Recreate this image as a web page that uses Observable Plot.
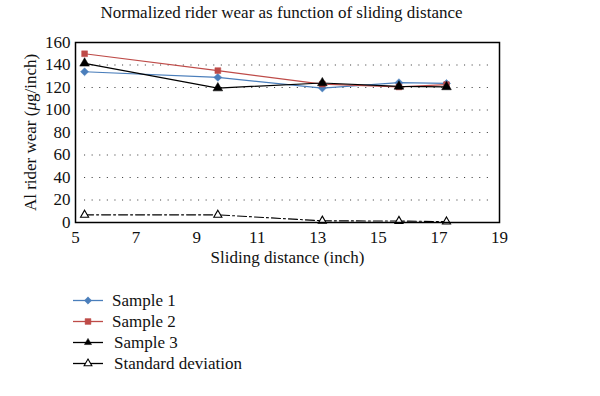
<!DOCTYPE html>
<html>
<head>
<meta charset="utf-8">
<script src="https://cdn.jsdelivr.net/npm/d3@7"></script>
<script src="https://cdn.jsdelivr.net/npm/@observablehq/plot@0.6"></script>
<style>
  body { margin: 0; background: #fff; font-family: "Liberation Serif", serif; }
  #wrap { width: 600px; height: 396px; position: relative; overflow: hidden; }
  #title { width: 563px; height: 30px; text-align: center; font-size: 17px; line-height: 17px; padding-top: 4px; box-sizing: border-box; color: #111; }
  #legend { position: relative; height: 126px; }
  .row { position: absolute; left: 73px; height: 21px; line-height: 21px; font-size: 17px; color: #111; display: flex; align-items: center; }
  .row svg { display: block; margin-right: 8px; }
</style>
</head>
<body>
<div id="wrap">
  <div id="title"></div>
  <div id="chart"></div>
  <div id="legend"></div>
</div>
<script>
const chartTitle = "Normalized rider wear as function of sliding distance";
const xLabel = "Sliding distance (inch)";
const yLabelParts = ["Al rider wear (", "μ", "g/inch)"];
const distance = [5.3, 9.7, 13.15, 15.68, 17.25];
const sample1 = [134, 129, 119.5, 124.3, 123.6];
const sample2 = [150, 135, 123, 120.5, 122.5];
const sample3 = [141.5, 119.5, 124, 121, 120.5];
const stdDev = [6.8, 6.8, 1.5, 1.3, 0.8];
const seriesNames = ["Sample 1", "Sample 2", "Sample 3", "Standard deviation"];
const seriesColors = ["#4a7ebb", "#be4b48", "#000000", "#000000"];
const seriesSymbols = ["diamond2", "square", "triangle", "triangle"];
const xTicks = [5, 7, 9, 11, 13, 15, 17, 19];
const yTicks = [0, 20, 40, 60, 80, 100, 120, 140, 160];
const gridTicks = [20, 40, 60, 80, 100, 120, 140];

const seriesValues = [sample1, sample2, sample3, stdDev];
const rows = [];
seriesValues.forEach((vals, i) => vals.forEach((v, j) => rows.push({series: seriesNames[i], x: distance[j], y: v})));
const bySeries = name => rows.filter(r => r.series === name);

document.getElementById("title").textContent = chartTitle;

const lineMarks = [];
seriesNames.forEach((name, i) => {
  const isStd = i === 3;
  lineMarks.push(Plot.line(bySeries(name), {
    x: "x", y: "y", stroke: seriesColors[i], strokeWidth: isStd ? 1.1 : 1.2,
    strokeDasharray: isStd ? "9,3,2,3" : null
  }));
});
seriesNames.forEach((name, i) => {
  const isStd = i === 3;
  const r = [3.6, 3.3, 3.6, 3.0][i];
  lineMarks.push(Plot.dot(bySeries(name), {
    x: "x", y: "y", symbol: seriesSymbols[i], r,
    fill: isStd ? "white" : seriesColors[i],
    stroke: isStd ? "black" : seriesColors[i],
    strokeWidth: isStd ? 1.1 : 0.5
  }));
});

const chart = Plot.plot({
  width: 600, height: 240,
  marginLeft: 75, marginRight: 101, marginTop: 12, marginBottom: 48,
  x: {domain: [5, 19]},
  y: {domain: [0, 160]},
  style: {fontFamily: "Liberation Serif", fontSize: "17px", color: "#111", background: "white", overflow: "visible"},
  marks: [
    Plot.ruleY(gridTicks, {stroke: "#444", strokeWidth: 1.1, strokeDasharray: "1.1,6.5", insetLeft: 9, insetRight: 9}),
    Plot.axisX({ticks: xTicks, tickSize: 0, tickPadding: 8, label: null, tickFormat: d => String(d), fontSize: 17}),
    Plot.axisY({ticks: yTicks, tickSize: 0, tickPadding: 5, label: null, tickFormat: d => String(d), fontSize: 17}),
    ...lineMarks,
    Plot.frame({stroke: "black", strokeWidth: 1.5}),
    Plot.text([xLabel], {frameAnchor: "bottom", dy: 40, text: d => d, fontSize: 17}),
    Plot.text([yLabelParts.join("")], {frameAnchor: "left", textAnchor: "middle", dx: -45, rotate: -90, text: d => d, fontSize: 17})
  ]
});
document.getElementById("chart").appendChild(chart);

// italic mu in y label
d3.select(chart).selectAll("text").filter(function() { return this.textContent === yLabelParts.join(""); })
  .each(function() {
    const t = d3.select(this);
    t.text(null);
    t.append("tspan").text(yLabelParts[0]);
    t.append("tspan").attr("font-style", "italic").text(yLabelParts[1]);
    t.append("tspan").text(yLabelParts[2]);
  });

// legend
const legend = d3.select("#legend");
const rowCenters = [30.7, 51.7, 72, 93];
seriesNames.forEach((name, i) => {
  const row = legend.append("div").attr("class", "row").style("top", (rowCenters[i] - 10.5) + "px");
  const s = row.append("svg").attr("width", 31).attr("height", 21);
  s.append("line").attr("x1", 0).attr("x2", 30).attr("y1", 10.5).attr("y2", 10.5)
    .attr("stroke", seriesColors[i]).attr("stroke-width", 1.3);
  const symMap = {diamond2: d3.symbolDiamond2, square: d3.symbolSquare, triangle: d3.symbolTriangle};
  const size = i === 3 ? 26 : (i === 2 ? 22 : 34);
  s.append("path").attr("transform", "translate(15,10.5)")
    .attr("d", d3.symbol(symMap[seriesSymbols[i]], size)())
    .attr("fill", i === 3 ? "white" : seriesColors[i])
    .attr("stroke", i === 3 ? "black" : seriesColors[i]).attr("stroke-width", i === 3 ? 1.1 : 0.5);
  row.append("span").text(name).style("margin-left", i >= 2 ? "2px" : "0px");
});
</script>
</body>
</html>
